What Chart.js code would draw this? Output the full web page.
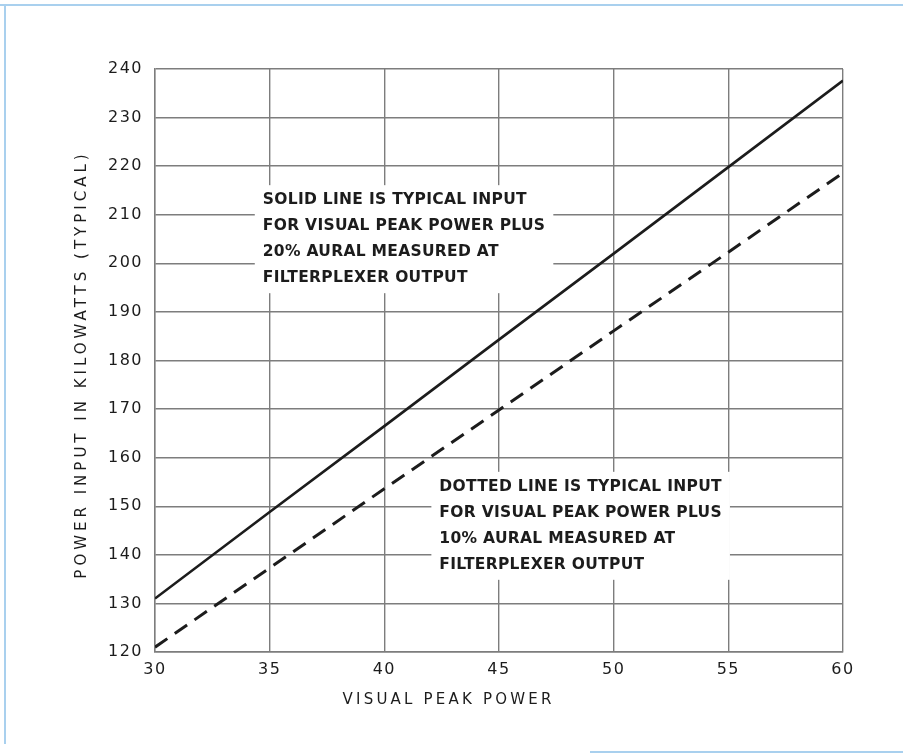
<!DOCTYPE html>
<html lang="en">
<head>
  <meta charset="UTF-8" />
  <title>Power Input vs Visual Peak Power</title>
  <script src="https://cdn.jsdelivr.net/npm/chart.js"></script>
  <style>
    html, body { margin: 0; padding: 0; background: #fff; }
    #wrap { position: relative; width: 903px; height: 755px; }
    .edge { position: absolute; background: #a9d0ee; }
  </style>
</head>
<body>
<div id="wrap">
  <div class="edge" style="left:0; top:4px; width:903px; height:2px;"></div>
  <div class="edge" style="left:4px; top:4px; width:2px; height:740px;"></div>
  <div class="edge" style="left:590px; top:751px; width:313px; height:2px;"></div>
  <canvas id="powerChart" width="903" height="755"></canvas>
</div>

<script>
// Visual peak power (x) and typical power input in kW (y)
const visualPeak = [30, 35, 40, 45, 50, 55, 60];
const input20pct = [131, 148.8, 166.5, 184.3, 202, 219.8, 237.6];
const input10pct = [121, 137.3, 153.6, 169.8, 186.1, 202.3, 218.6];

const xTitle = 'VISUAL PEAK POWER';
const yTitle = 'POWER INPUT IN KILOWATTS (TYPICAL)';

const solidNote = [
  'SOLID LINE IS TYPICAL INPUT',
  'FOR VISUAL PEAK POWER PLUS',
  '20% AURAL MEASURED AT',
  'FILTERPLEXER OUTPUT'
];
const dottedNote = [
  'DOTTED LINE IS TYPICAL INPUT',
  'FOR VISUAL PEAK POWER PLUS',
  '10% AURAL MEASURED AT',
  'FILTERPLEXER OUTPUT'
];
// anchor of each note in data units: [x, y of first line]
const solidAnchor = [34.7, 213];
const dottedAnchor = [42.4, 154];

const INK = '#1c1c1c';
const GRID = '#7d7d7d';
const FONT = '"DejaVu Sans", sans-serif';

function toPoints(xs, ys) {
  return xs.map((x, i) => ({ x: x, y: ys[i] }));
}

// the two text blocks sit on a white patch, breaking the grid like the print
const notesPlugin = {
  id: 'notes',
  afterDraw(chart) {
    const ctx = chart.ctx;
    const xs = chart.scales.x, ys = chart.scales.y;
    ctx.save();
    ctx.font = '600 15.5px ' + FONT;
    ctx.letterSpacing = '0.3px';
    ctx.textBaseline = 'middle';
    ctx.textAlign = 'left';
    const step = 26;
    [[solidNote, solidAnchor], [dottedNote, dottedAnchor]].forEach(([lines, anchor]) => {
      const x0 = xs.getPixelForValue(anchor[0]);
      const y0 = ys.getPixelForValue(anchor[1]);
      let w = 0;
      lines.forEach(l => { w = Math.max(w, ctx.measureText(l).width); });
      ctx.fillStyle = '#fff';
      ctx.fillRect(x0 - 8, y0 - 15, w + 16, step * (lines.length - 1) + 30);
      ctx.fillStyle = INK;
      lines.forEach((l, i) => ctx.fillText(l, x0, y0 + i * step));
    });

    // axis titles, widely spaced as in the original lettering
    ctx.font = '15px ' + FONT;
    ctx.letterSpacing = '3.2px';
    ctx.textAlign = 'center';
    ctx.fillText(xTitle, xs.getPixelForValue(42.8), 700);
    ctx.letterSpacing = '4px';
    ctx.translate(82, (ys.top + ys.bottom) / 2 + 4);
    ctx.rotate(-Math.PI / 2);
    ctx.fillText(yTitle, 0, 0);
    ctx.restore();
  }
};

const spacingPlugin = {
  id: 'spacing',
  beforeInit(chart) { chart.ctx.letterSpacing = '1.5px'; },
  beforeDraw(chart) { chart.ctx.letterSpacing = '1.5px'; }
};

new Chart(document.getElementById('powerChart'), {
  type: 'line',
  data: {
    datasets: [
      {
        label: '20% aural',
        data: toPoints(visualPeak, input20pct),
        borderColor: INK,
        borderWidth: 2.6,
        pointRadius: 0,
        tension: 0
      },
      {
        label: '10% aural',
        data: toPoints(visualPeak, input10pct),
        borderColor: INK,
        borderWidth: 3,
        borderDash: [15, 9],
        pointRadius: 0,
        tension: 0
      }
    ]
  },
  options: {
    responsive: false,
    animation: false,
    layout: { padding: { left: 66, top: 69, right: 60, bottom: 43 } },
    scales: {
      x: {
        type: 'linear',
        min: 30, max: 60,
        afterFit(s) { s.height = 60; },
        ticks: { stepSize: 5, color: INK, padding: 8, font: { size: 16, family: FONT } },
        grid: { color: GRID, lineWidth: 1.4, drawTicks: false },
        border: { color: GRID, width: 1.4 }
      },
      y: {
        min: 120, max: 240,
        afterFit(s) { s.width = 89; },
        ticks: { stepSize: 10, color: INK, padding: 12, font: { size: 16, family: FONT } },
        grid: { color: GRID, lineWidth: 1.4, drawTicks: false },
        border: { color: GRID, width: 1.4 }
      }
    },
    plugins: {
      legend: { display: false },
      tooltip: { enabled: false }
    }
  },
  plugins: [spacingPlugin, notesPlugin]
});
</script>
</body>
</html>
